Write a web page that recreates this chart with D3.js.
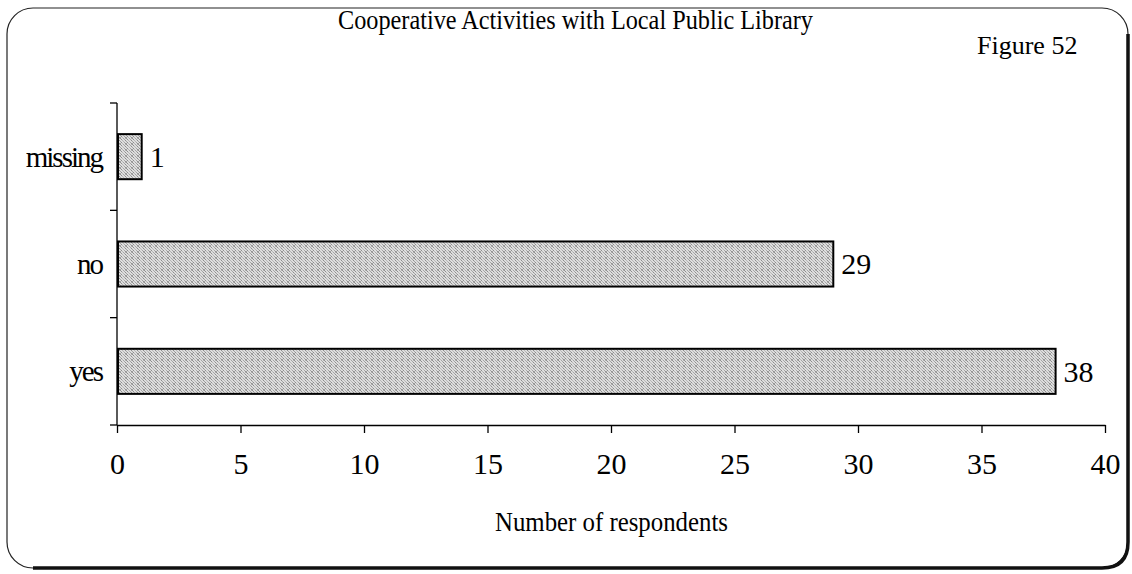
<!DOCTYPE html>
<html><head><meta charset="utf-8">
<script src="https://cdn.jsdelivr.net/npm/d3@7"></script>
<style>html,body{margin:0;padding:0;background:#fff;}svg{display:block;}</style>
</head><body>
<script>
const categories = ["yes", "no", "missing"];
const values = [38, 29, 1];
const xTicks = [0, 5, 10, 15, 20, 25, 30, 35, 40];
const titleText = "Cooperative Activities with Local Public Library";
const figureText = "Figure 52";
const xTitle = "Number of respondents";

const W = 1132, H = 574;
const svg = d3.select("body").append("svg").attr("width", W).attr("height", H);
const font = "Liberation Serif, Times New Roman, DejaVu Serif, serif";

// dither pattern (irregular so it does not read as hatching)
const defs = svg.append("defs");
const pat = defs.append("pattern").attr("id","dith").attr("width",6).attr("height",6).attr("patternUnits","userSpaceOnUse");
pat.append("rect").attr("width",6).attr("height",6).attr("fill","#dedede");
const dots = [[0,0],[3,0],[5,0],[1,1],[4,1],[2,2],[5,2],[0,3],[3,3],[1,4],[4,4],[2,5],[5,5],[0,5]];
dots.forEach(([a,b],i)=>{
  pat.append("rect").attr("x",a).attr("y",b).attr("width",1).attr("height",1).attr("fill", ["#8e8e8e","#a4a4a4","#b6b6b6"][i%3]);
});

// frame
const fx0=7, fy0=8, fx1=1128, fy1=568, r=26;
svg.append("rect").attr("x",fx0).attr("y",fy0).attr("width",fx1-fx0).attr("height",fy1-fy0)
  .attr("rx",r).attr("ry",r).attr("fill","none").attr("stroke","#222").attr("stroke-width",1.2);
svg.append("path")
  .attr("d",`M${fx1},${fy0+r} L${fx1},${fy1-r} Q${fx1},${fy1} ${fx1-r},${fy1} L${fx0+r},${fy1}`)
  .attr("fill","none").attr("stroke","#111").attr("stroke-width",3.5);

const m = {left:117, right:1105, top:103, bottom:425};
const x = d3.scaleLinear().domain([0,40]).range([m.left, m.right]);
const y = d3.scaleBand().domain(["missing","no","yes"]).range([m.top, m.bottom]).paddingInner(0.58).paddingOuter(0.29);

// y axis
const yAxisG = svg.append("g").attr("transform",`translate(${m.left},0)`);
yAxisG.append("line").attr("x1",0).attr("x2",0).attr("y1",m.top).attr("y2",m.bottom).attr("stroke","#000").attr("stroke-width",1.3);
const step = (m.bottom-m.top)/categories.length;
d3.range(categories.length+1).forEach(i=>{
  yAxisG.append("line").attr("x1",-7).attr("x2",0).attr("y1",m.top+i*step).attr("y2",m.top+i*step).attr("stroke","#000").attr("stroke-width",1.3);
});
// x axis
const xAxisG = svg.append("g").attr("transform",`translate(0,${m.bottom})`)
  .call(d3.axisBottom(x).tickValues(xTicks).tickSize(8).tickPadding(20).tickSizeOuter(0));
xAxisG.select(".domain").attr("stroke","#000").attr("stroke-width",1.3);
xAxisG.selectAll(".tick line").attr("stroke","#000").attr("stroke-width",1.3);
xAxisG.selectAll(".tick text").attr("font-family",font).attr("font-size",30).attr("fill","#000");

// bars
const rows = categories.map((c,i)=>({c, v:values[i]}));
svg.selectAll("rect.bar").data(rows).join("rect")
  .attr("class","bar")
  .attr("x", x(0)+1).attr("y", d=>y(d.c))
  .attr("width", d=>x(d.v)-x(0)-1).attr("height", y.bandwidth())
  .attr("fill","url(#dith)").attr("stroke","#000").attr("stroke-width",2);

// value labels
svg.selectAll("text.val").data(rows).join("text")
  .attr("class","val").attr("x", d=>x(d.v)+8).attr("y", d=>y(d.c)+y.bandwidth()/2)
  .attr("dy","0.34em").attr("font-family",font).attr("font-size",30).attr("fill","#000")
  .text(d=>d.v);

// category labels
svg.selectAll("text.cat").data(categories).join("text")
  .attr("class","cat").attr("x", m.left-15).attr("y", d=>y(d)+y.bandwidth()/2)
  .attr("dy","0.34em").attr("text-anchor","end").attr("font-family",font).attr("font-size",29)
  .attr("letter-spacing",-2).attr("fill","#000").text(d=>d);

// titles
svg.append("text").attr("x",338).attr("y",29).attr("font-family",font).attr("font-size",27)
  .attr("textLength",475).attr("lengthAdjust","spacingAndGlyphs").attr("fill","#000").text(titleText);
svg.append("text").attr("x",977).attr("y",54).attr("font-family",font).attr("font-size",26)
  .attr("fill","#000").text(figureText);
svg.append("text").attr("x",495).attr("y",531).attr("font-family",font).attr("font-size",28)
  .attr("textLength",233).attr("lengthAdjust","spacingAndGlyphs").attr("fill","#000").text(xTitle);
</script>
</body></html>
